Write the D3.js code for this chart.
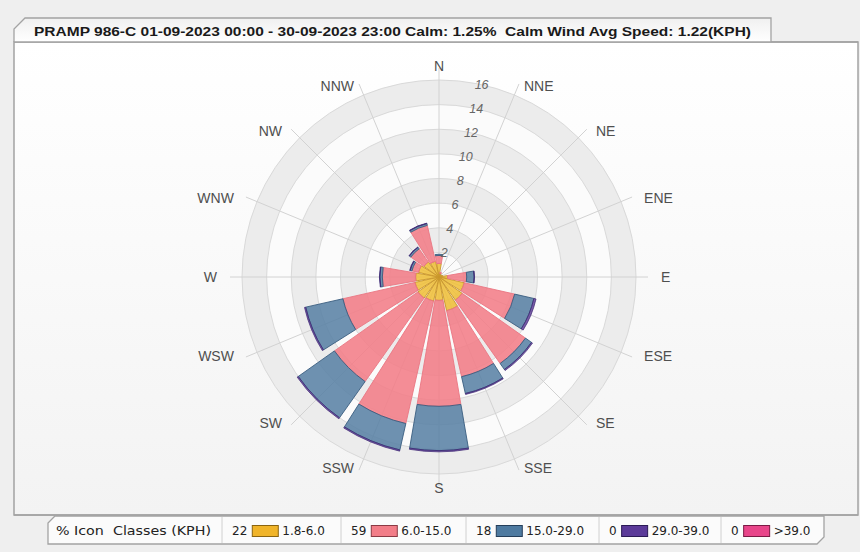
<!DOCTYPE html>
<html><head><meta charset="utf-8">
<script src="https://cdn.jsdelivr.net/npm/d3@7"></script>
<style>
html,body{margin:0;padding:0;background:#efefef;}
svg{display:block;}
text{white-space:pre;}
</style></head><body>
<svg id="chart" width="860" height="552"></svg>
<script>
// ---------- data ----------
const directions = ["N","NNE","NE","ENE","E","ESE","SE","SSE","S","SSW","SW","WSW","W","WNW","NW","NNW"];
const speed1 = [1.1,0.3,0.2,0.3,0.7,2.1,2.3,2.8,1.9,2.0,2.1,2.0,1.9,1.7,1.5,1.3];        // 1.8-6.0
const speed2 = [0.65,0.1,0,0,1.55,4.2,6.3,5.5,8.6,10.2,8.3,6.0,2.7,0.55,1.3,3.0];       // 6.0-15.0
const speed3 = [0.1,0,0,0,0.6,1.6,0.6,1.4,3.6,2.2,3.6,3.1,0.2,0.15,0.15,0.15];          // 15.0-29.0
const speed4 = [0,0,0,0,0.04,0.18,0.1,0.08,0.1,0.1,0.1,0.1,0.04,0.04,0.04,0.04];        // 29.0-39.0
const speed5 = [0,0,0,0,0,0,0,0,0,0,0,0,0,0,0,0];                                       // >39.0
const classLabels = ["1.8-6.0","6.0-15.0","15.0-29.0","29.0-39.0",">39.0"];
const classPercents = [22,59,18,0,0];
const radialTicks = [2,4,6,8,10,12,14,16];
const titleText = "PRAMP 986-C 01-09-2023 00:00 - 30-09-2023 23:00 Calm: 1.25%  Calm Wind Avg Speed: 1.22(KPH)";
const legendHeader = "% Icon  Classes (KPH)";

// ---------- styles ----------
const fills   = ["#efbf3a","#f37d88","#5a82a5","#6a4a9e","#e8458a"];
const strokes = ["#c8952a","#ea7682","#3a5d80","#3a2270","#b02a66"];
const swatchFills = ["#f0b429","#f27d88","#4e7aa0","#5b3a99","#e8458a"];
const swatchStrokes = ["#8a6410","#8a3a44","#243e5a","#2a1a55","#7a1a44"];

const svg = d3.select("#chart");
const W = 860, H = 552;
const cx = 439, cy = 277, R = 197;

const defs = svg.append("defs");
const pg = defs.append("linearGradient").attr("id","panelGrad").attr("x1",0).attr("y1",0).attr("x2",0).attr("y2",1);
pg.append("stop").attr("offset","0%").attr("stop-color","#ffffff");
pg.append("stop").attr("offset","100%").attr("stop-color","#f3f3f3");
const tg = defs.append("linearGradient").attr("id","tabGrad").attr("x1",0).attr("y1",0).attr("x2",0).attr("y2",1);
tg.append("stop").attr("offset","0%").attr("stop-color","#f0f0f0");
tg.append("stop").attr("offset","100%").attr("stop-color","#ffffff");

svg.append("rect").attr("width",W).attr("height",H).attr("fill","#efefef");

// panel
svg.append("rect").attr("x",14).attr("y",42).attr("width",844).attr("height",473)
  .attr("fill","url(#panelGrad)").attr("stroke","#a3a3a3").attr("stroke-width",1.5);

// title tab
svg.append("path").attr("d","M14,42 L14,29 L25,18 L771,18 L771,42")
  .attr("fill","url(#tabGrad)").attr("stroke","#a3a3a3").attr("stroke-width",1.3);
svg.append("line").attr("x1",14).attr("x2",858).attr("y1",42).attr("y2",42)
  .attr("stroke","#a3a3a3").attr("stroke-width",1.5);
svg.append("text").attr("x",34).attr("y",36)
  .attr("font-family","Liberation Sans, Arial, sans-serif").attr("font-weight","bold")
  .attr("font-size",13.5).attr("fill","#1a1a1a")
  .attr("textLength",717).attr("lengthAdjust","spacingAndGlyphs")
  .text(titleText);

// ---------- polar chart ----------
const r = d3.scaleLinear().domain([0,16]).range([0,R]);
const theta = d3.scalePoint().domain(directions).range([0, 2*Math.PI*15/16]);
const halfW = (19.5/2)*Math.PI/180;

const g = svg.append("g").attr("transform",`translate(${cx},${cy})`);

// bands
radialTicks.slice().reverse().forEach(t => {
  g.append("circle").attr("r", r(t))
    .attr("fill", (t/2) % 2 === 0 ? "#ececec" : "#fbfbfb")
    .attr("stroke","#d9d9d9").attr("stroke-width",1);
});
// radial grid lines
g.selectAll("line.grid").data(directions).join("line").attr("class","grid")
  .attr("x1",0).attr("y1",0)
  .attr("x2",d => (R+12)*Math.sin(theta(d)))
  .attr("y2",d => -(R+12)*Math.cos(theta(d)))
  .attr("stroke","#d2d2d2").attr("stroke-width",1);

// stacked bars
const keys = ["s1","s2","s3","s4","s5"];
const rows = directions.map((d,i) => ({dir:d, s1:speed1[i], s2:speed2[i], s3:speed3[i], s4:speed4[i], s5:speed5[i]}));
const stacked = d3.stack().keys(keys)(rows);
const arc = d3.arc()
  .innerRadius(d => r(d[0])).outerRadius(d => r(d[1]))
  .startAngle(d => theta(d.data.dir) - halfW)
  .endAngle(d => theta(d.data.dir) + halfW);

stacked.forEach((ser, k) => {
  g.append("g").selectAll("path")
    .data(ser.filter(d => d[1] - d[0] > 0))
    .join("path")
    .attr("d", arc)
    .attr("fill", fills[k]).attr("fill-opacity",0.88)
    .attr("stroke", strokes[k]).attr("stroke-width", k === 3 ? 0.7 : 0.9);
});

// radial axis labels
const labA = 12.5*Math.PI/180;
g.selectAll("text.ylab").data(radialTicks).join("text").attr("class","ylab")
  .attr("x", t => r(t)*Math.sin(labA))
  .attr("y", t => -r(t)*Math.cos(labA))
  .attr("dy","0.35em").attr("text-anchor","middle")
  .attr("font-family","Liberation Sans, Arial, sans-serif").attr("font-style","italic")
  .attr("font-size",12.5).attr("fill","#666")
  .text(t => t);

// direction labels
g.selectAll("text.xlab").data(directions).join("text").attr("class","xlab")
  .each(function(d){
    const a = theta(d), s = Math.sin(a), c = Math.cos(a);
    const mid = Math.abs(s) < 0.1;
    d3.select(this)
      .attr("x", 222*s)
      .attr("y", -(207 + (mid ? 4 : 0))*c)
      .attr("text-anchor", mid ? "middle" : (s > 0 ? "start" : "end"));
  })
  .attr("dy","0.35em")
  .attr("font-family","Liberation Sans, Arial, sans-serif")
  .attr("font-size",14).attr("fill","#4f4f4f")
  .text(d => d);

// ---------- legend ----------
svg.append("path").attr("d","M55,516 L824,516 L824,537 L817,544 L48,544 L48,523 Z")
  .attr("fill","#fbfbfb").attr("stroke","#a3a3a3").attr("stroke-width",1.3);
svg.append("line").attr("x1",14).attr("x2",858).attr("y1",515).attr("y2",515)
  .attr("stroke","#a3a3a3").attr("stroke-width",1.5);

const cellEdges = [48,222,341,466,599,721,824];
const lf = "DejaVu Sans, Verdana, sans-serif";
const ly = 535;
svg.append("text").attr("x",56).attr("y",ly).attr("font-family",lf).attr("font-size",12)
  .attr("fill","#222").attr("textLength",155).attr("lengthAdjust","spacingAndGlyphs").text(legendHeader);
cellEdges.slice(1,-1).forEach(x => {
  svg.append("line").attr("x1",x).attr("x2",x).attr("y1",517).attr("y2",543)
    .attr("stroke","#d0d0d0").attr("stroke-width",1);
});
classLabels.forEach((lab,i) => {
  const left = cellEdges[i+1];
  const num = svg.append("text").attr("x",left+10).attr("y",ly).attr("font-family",lf)
    .attr("font-size",12).attr("fill","#222").text(classPercents[i]);
  const nw = num.node().getComputedTextLength();
  const sx = left + 10 + nw + 5;
  svg.append("rect").attr("x",sx).attr("y",525.5).attr("width",26).attr("height",11)
    .attr("fill",swatchFills[i]).attr("stroke",swatchStrokes[i]).attr("stroke-width",1);
  svg.append("text").attr("x",sx+30).attr("y",ly).attr("font-family",lf)
    .attr("font-size",12).attr("fill","#222").text(lab);
});
</script>
</body></html>
